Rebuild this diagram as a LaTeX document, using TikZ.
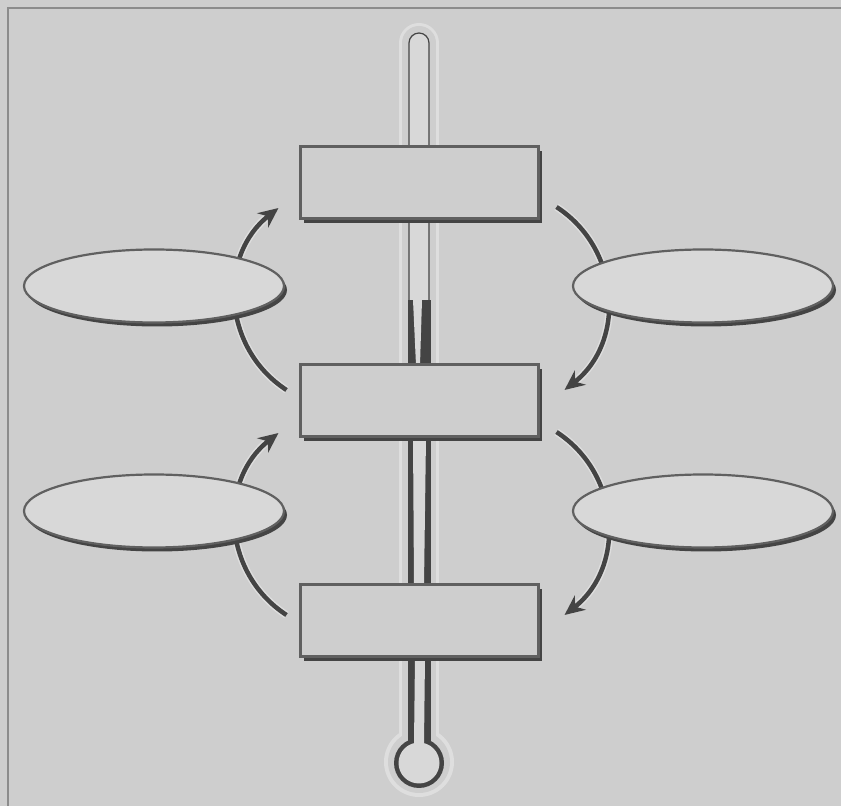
\documentclass[tikz,border=0pt]{standalone}
\usetikzlibrary{arrows.meta,shapes.geometric,shadows}
\definecolor{bgGray}{RGB}{206,206,206}
\definecolor{frameGray}{RGB}{140,140,140}
\definecolor{haloGray}{RGB}{222,222,222}
\definecolor{glassGray}{RGB}{216,216,216}
\definecolor{darkGray}{RGB}{68,68,68}
\definecolor{edgeGray}{RGB}{96,96,96}
\begin{document}
\begin{tikzpicture}[x=1pt,y=1pt,
  box/.style={draw=edgeGray, line width=3pt, fill=bgGray, minimum width=238pt, minimum height=72pt, inner sep=0pt,
    drop shadow={shadow xshift=4pt, shadow yshift=-4pt, fill=darkGray, opacity=1}},
  oval/.style={ellipse, draw=edgeGray, line width=2.2pt, fill=glassGray, minimum width=260pt, minimum height=73pt, inner sep=0pt,
    drop shadow={shadow xshift=3pt, shadow yshift=-4pt, fill=darkGray, opacity=1}},
  cyclearrow/.style={draw=darkGray, line width=4.5pt, -{Stealth[length=20pt,width=18pt]}, looseness=1.08,
    preaction={draw=haloGray, line width=7.5pt}}]
\useasboundingbox (0,0) rectangle (841,806);
\fill[bgGray] (0,0) rectangle (841,806);
\draw[frameGray, line width=2pt] (8,0) -- (8,798) -- (841,798);
% thermometer halo
\draw[haloGray, line width=40pt, line cap=round] (419,763) -- (419,44);
\fill[haloGray] (419,44) circle (35);
\draw[bgGray, line width=34pt, line cap=round] (419,763) -- (419,44);
\fill[bgGray] (419,44) circle (31);
% thermometer tube
\draw[darkGray, line width=1.2pt, fill=glassGray] (409,506) -- (409,763) arc[start angle=180, end angle=0, radius=10] -- (429,506);
\fill[darkGray] (408,506) rectangle (431,60);
\fill[darkGray] (419,43) circle (25);
\fill[glassGray] (419,43) circle (20.5);
\fill[glassGray] (413,506) -- (422,506) -- (420,441) -- (416,441) -- cycle;
\fill[glassGray] (413,369) -- (426,369) -- (424,221) -- (414,221) -- cycle;
\fill[glassGray] (415,149) -- (425,149) -- (424,62) -- (414,62) -- cycle;
% boxes
\node[box] (box1) at (419,623) {};
\node[box] (box2) at (419,405) {};
\node[box] (box3) at (419,185) {};
% arrows
\draw[cyclearrow] ([shift={(-12,11)}]box2.west) to[out=147, in=-142] ([shift={(-20,-25)}]box1.west);
\draw[cyclearrow] ([shift={(-12,6)}]box3.west) to[out=147, in=-142] ([shift={(-20,-32)}]box2.west);
\draw[cyclearrow] ([shift={(17,-24)}]box1.east) to[out=-33, in=38] ([shift={(25,11)}]box2.east);
\draw[cyclearrow] ([shift={(17,-31)}]box2.east) to[out=-33, in=38] ([shift={(25,6)}]box3.east);
% ellipses
\node[oval] (left1) at (154,520) {};
\node[oval] (left2) at (154,295) {};
\node[oval] (right1) at (703,520) {};
\node[oval] (right2) at (703,295) {};
\end{tikzpicture}
\end{document}
